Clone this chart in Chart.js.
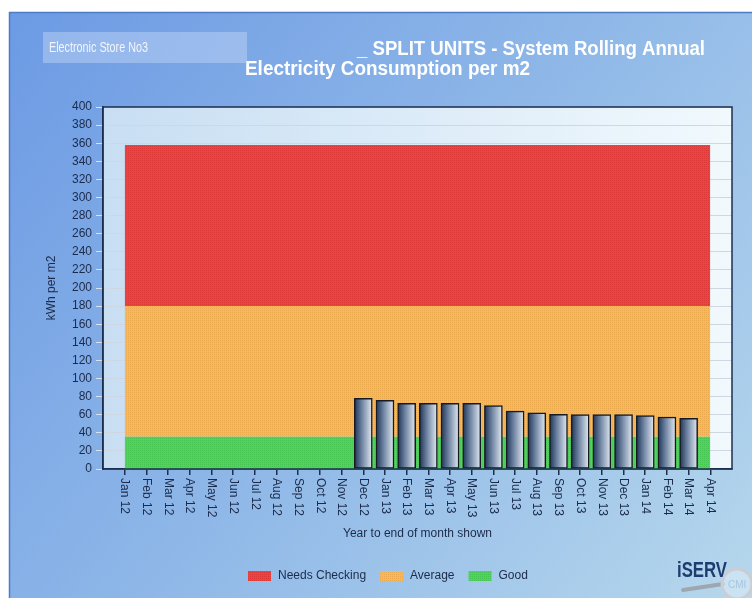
<!DOCTYPE html>
<html>
<head>
<meta charset="utf-8">
<script src="https://cdn.jsdelivr.net/npm/chart.js@4.4.0/dist/chart.umd.min.js"></script>
<style>
  html, body { margin: 0; padding: 0; background: #fff; }
  #wrap { width: 752px; height: 598px; }
</style>
</head>
<body>
<div id="wrap"><canvas id="chart" width="752" height="598"></canvas></div>
<script>
// x axis months (tick labels)
const months = ['Jan 12','Feb 12','Mar 12','Apr 12','May 12','Jun 12','Jul 12','Aug 12','Sep 12','Oct 12','Nov 12','Dec 12',
  'Jan 13','Feb 13','Mar 13','Apr 13','May 13','Jun 13','Jul 13','Aug 13','Sep 13','Oct 13','Nov 13','Dec 13',
  'Jan 14','Feb 14','Mar 14','Apr 14'];

// rolling annual consumption, kWh per m2
const barMonths = ['Dec 12','Jan 13','Feb 13','Mar 13','Apr 13','May 13','Jun 13','Jul 13','Aug 13','Sep 13','Oct 13','Nov 13','Dec 13','Jan 14','Feb 14','Mar 14'];
const consumption = [78, 76, 72.5, 72.5, 72.5, 72.5, 70, 64, 62, 60.5, 60, 60, 60, 59, 57.5, 56];

// benchmark bands (upper limit of each band)
const bandEnds = ['Jan 12', 'Apr 14'];
const goodBand = [36, 36];
const averageBand = [180, 180];
const checkBand = [358, 358];

const yMin = 0, yMax = 400, yStep = 20;

const TEXT = '#1c2b4a';
const FONT = '"Liberation Sans", Arial, sans-serif';

function pattern(base, dot){
  const c = document.createElement('canvas');
  c.width = 4; c.height = 4;
  const g = c.getContext('2d');
  g.fillStyle = base; g.fillRect(0, 0, 4, 4);
  g.fillStyle = dot;
  g.fillRect(0, 0, 1, 1); g.fillRect(2, 2, 1, 1);
  g.fillRect(2, 0, 1, 1); g.fillRect(0, 2, 1, 1);
  return g.createPattern(c, 'repeat');
}
const redFill = pattern('#ea4444', '#dc3838');
const orangeFill = pattern('#f4ba5e', '#eaa94c');
const greenFill = pattern('#52d35e', '#46c552');

const band = (label, vals, fill, color) => ({
  type: 'line', label, order: 1,
  data: bandEnds.map((m, i) => ({ x: months.indexOf(m), y: vals[i] })),
  backgroundColor: color, borderWidth: 0, pointRadius: 0, fill
});

function fitText(ctx, text, x, y, width){
  const w = ctx.measureText(text).width;
  ctx.save();
  ctx.translate(x, y);
  ctx.scale(width / w, 1);
  ctx.textAlign = 'left';
  ctx.fillText(text, 0, 0);
  ctx.restore();
}

const decor = {
  id: 'decor',
  beforeDraw(chart){
    const ctx = chart.ctx, a = chart.chartArea;
    ctx.save();
    ctx.fillStyle = '#fff';
    ctx.fillRect(0, 0, chart.width, chart.height);
    const bg = ctx.createLinearGradient(9, 12, 752, 598);
    bg.addColorStop(0, '#6c9ae4');
    bg.addColorStop(0.5, '#8fb8e8');
    bg.addColorStop(1, '#b6d7ec');
    ctx.fillStyle = bg;
    ctx.fillRect(9, 12, chart.width - 9, chart.height - 12);
    ctx.strokeStyle = '#4d7cc4'; ctx.lineWidth = 1.5;
    ctx.beginPath(); ctx.moveTo(9.5, chart.height); ctx.lineTo(9.5, 12.5); ctx.lineTo(chart.width, 12.5); ctx.stroke();

    // plot background
    const pg = ctx.createLinearGradient(a.left, 0, a.right, 0);
    pg.addColorStop(0, '#c8def3');
    pg.addColorStop(1, '#f1f9fd');
    ctx.fillStyle = pg;
    ctx.fillRect(a.left, a.top, a.right - a.left, a.bottom - a.top);

    // titles
    ctx.fillStyle = '#ffffff';
    ctx.textBaseline = 'alphabetic';
    ctx.font = 'bold 20px ' + FONT;
    fitText(ctx, '_ SPLIT UNITS - System Rolling Annual', 357, 55, 348);
    fitText(ctx, 'Electricity Consumption per m2', 245, 75, 285);
    ctx.fillStyle = 'rgba(196,216,246,0.45)';
    ctx.fillRect(43, 32, 204, 31);
    ctx.fillStyle = '#f2f6fc';
    ctx.font = '14px ' + FONT;
    fitText(ctx, 'Electronic Store No3', 49, 52, 99);
    ctx.restore();
  },
  afterDraw(chart){
    const ctx = chart.ctx, a = chart.chartArea, xs = chart.scales.x;
    ctx.save();
    // plot frame
    ctx.strokeStyle = '#1e2e4e'; ctx.lineWidth = 1.5;
    ctx.strokeRect(a.left, a.top, a.right - a.left, a.bottom - a.top);

    // x tick labels, reading downwards
    ctx.fillStyle = TEXT;
    ctx.font = '12px ' + FONT;
    ctx.textAlign = 'left'; ctx.textBaseline = 'middle';
    xs.ticks.forEach(t => {
      const label = months[t.value];
      if (label === undefined) return;
      ctx.save();
      ctx.translate(xs.getPixelForValue(t.value), a.bottom + 9);
      ctx.rotate(Math.PI / 2);
      ctx.fillText(label, 0, 0);
      ctx.restore();
    });

    // legend
    let x = 248;
    const y = 576;
    ctx.font = '12px ' + FONT;
    chart.data.datasets.filter(d => d.label).forEach(d => {
      ctx.fillStyle = d.backgroundColor;
      ctx.fillRect(x, y - 5, 23, 10);
      x += 30;
      ctx.fillStyle = TEXT;
      ctx.textAlign = 'left'; ctx.textBaseline = 'middle';
      ctx.fillText(d.label, x, y);
      x += ctx.measureText(d.label).width + 14;
    });

    // logo
    ctx.strokeStyle = '#9ea6b0'; ctx.lineWidth = 4; ctx.lineCap = 'round';
    ctx.beginPath(); ctx.moveTo(683, 590); ctx.lineTo(723, 584); ctx.stroke();
    ctx.fillStyle = 'rgba(220,236,246,0.55)';
    ctx.strokeStyle = '#c9ced5'; ctx.lineWidth = 3;
    ctx.beginPath(); ctx.arc(737, 584, 15, 0, Math.PI * 2); ctx.fill(); ctx.stroke();
    ctx.fillStyle = 'rgba(150,185,215,0.7)';
    ctx.font = '10px ' + FONT; ctx.textAlign = 'left'; ctx.textBaseline = 'alphabetic';
    ctx.fillText('CMI', 728, 588);
    ctx.fillStyle = '#1f3c72';
    ctx.font = 'bold 22px ' + FONT;
    fitText(ctx, 'iSERV', 677, 577, 50);
    ctx.restore();
  }
};

new Chart(document.getElementById('chart'), {
  type: 'bar',
  data: {
    datasets: [
      band('Needs Checking', checkBand, '+1', redFill),
      band('Average', averageBand, '+1', orangeFill),
      band('Good', goodBand, 'origin', greenFill),
      {
        type: 'bar', order: 0,
        data: barMonths.map((m, i) => ({ x: months.indexOf(m), y: consumption[i] })),
        barThickness: 18,
        borderColor: '#161a22', borderWidth: 1.5, borderSkipped: false,
        backgroundColor: c => {
          const chart = c.chart;
          if (!chart.chartArea || !c.raw) return '#7d90aa';
          const cx = chart.scales.x.getPixelForValue(c.raw.x);
          const g = chart.ctx.createLinearGradient(cx - 9, 0, cx + 9, 0);
          g.addColorStop(0, '#1d3355');
          g.addColorStop(0.45, '#7489a6');
          g.addColorStop(1, '#e4ebf3');
          return g;
        }
      }
    ]
  },
  options: {
    responsive: false,
    animation: false,
    layout: { padding: { top: 107, right: 20, left: 40, bottom: 53 } },
    plugins: { legend: { display: false }, tooltip: { enabled: false } },
    scales: {
      x: {
        type: 'linear', min: -1, max: months.length, offset: false,
        afterBuildTicks: s => { s.ticks = months.map((m, i) => ({ value: i })); },
        afterFit: s => { s.height = 76; },
        ticks: { display: false },
        grid: { offset: false, drawOnChartArea: false, tickLength: 6, tickColor: '#1e2e4e', lineWidth: 1.5 },
        border: { color: '#1e2e4e', width: 1.5 },
        title: { display: true, text: 'Year to end of month shown', color: TEXT, font: { family: FONT, size: 12 } }
      },
      y: {
        min: yMin, max: yMax,
        afterFit: s => { s.width = 63; },
        ticks: { stepSize: yStep, color: TEXT, padding: 4, font: { family: FONT, size: 12 } },
        grid: { color: '#cfd8e2', tickColor: '#d6e2ee', tickLength: 7 },
        border: { color: '#1e2e4e', width: 1.5 },
        title: { display: true, text: 'kWh per m2', color: TEXT, font: { family: FONT, size: 12 } }
      }
    }
  },
  plugins: [decor]
});
</script>
</body>
</html>
